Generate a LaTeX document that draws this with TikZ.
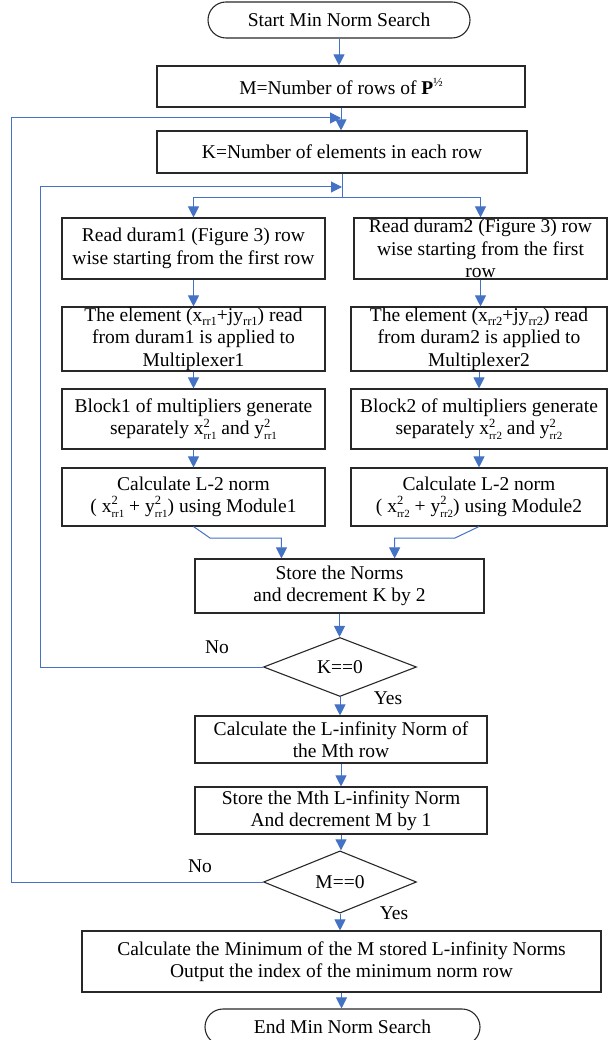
\documentclass[tikz,border=0pt]{standalone}
\usepackage{fontspec}
\setmainfont{Liberation Serif}
\usetikzlibrary{arrows.meta,shapes.geometric,calc}
\definecolor{flow}{RGB}{68,114,196}
\definecolor{edgec}{RGB}{40,40,40}
\newcommand\ssz{\fontsize{12.5}{12.5}\selectfont}
\newcommand\subsz{\fontsize{11}{11}\selectfont}
\newcommand\xss[3]{#1\rlap{\raisebox{0.85ex}{\ssz #2}}\raisebox{-0.55ex}{\subsz #3}}
\newcommand\xsub[2]{#1\raisebox{-0.45ex}{\ssz #2}}
\begin{document}
\begin{tikzpicture}[x=1pt,y=-1pt,
  font=\fontsize{19.5}{22.5}\selectfont,
  box/.style={draw=edgec, line width=1.1pt, align=center, inner sep=0pt, anchor=center},
  dia/.style={diamond, draw=edgec, line width=1.1pt, inner sep=0pt, minimum width=153pt, minimum height=58pt},
  arr/.style={draw=flow, line width=1pt, -{Triangle[width=11pt,length=11pt]}},
  ln/.style={draw=flow, line width=1pt},
  lbl/.style={inner sep=0pt, anchor=center}]
\useasboundingbox (0,0) rectangle (608,1040);
\clip (0,0) rectangle (608,1040);
% main column
\node[box, minimum width=262pt, minimum height=36pt, rounded corners=18pt] (start) at (339,20) {Start Min Norm Search};
\node[box, minimum width=368pt, minimum height=41pt] (mbox) at (341,86.5) {M=Number of rows of \textbf{P}\raisebox{0.9ex}{\ssz ½}};
\node[box, minimum width=370pt, minimum height=42pt] (kbox) at (342,152) {K=Number of elements in each row};
% left column
\node[box, minimum width=263pt, minimum height=61pt] (L1) at (193.5,248.5) {Read duram1 (Figure 3) row\\wise starting from the first row};
\node[box, minimum width=263pt, minimum height=64pt] (L2) at (193.5,339) {The element (\xsub{x}{rr1}+j\xsub{y}{rr1}) read\\from duram1 is applied to\\Multiplexer1};
\node[box, minimum width=263pt, minimum height=60pt] (L3) at (193.5,419) {Block1 of multipliers generate\\separately \xss{x}{2}{rr1} and \xss{y}{2}{rr1}};
\node[box, minimum width=263pt, minimum height=58pt] (L4) at (193.5,497) {Calculate L-2 norm\\( \xss{x}{2}{rr1} + \xss{y}{2}{rr1}) using Module1};
% right column
\node[box, minimum width=253pt, minimum height=61pt] (R1) at (480.5,248.5) {Read duram2 (Figure 3) row\\wise starting from the first\\row};
\node[box, minimum width=256pt, minimum height=64pt] (R2) at (479,339) {The element (\xsub{x}{rr2}+j\xsub{y}{rr2}) read\\from duram2 is applied to\\Multiplexer2};
\node[box, minimum width=256pt, minimum height=60pt] (R3) at (479,419) {Block2 of multipliers generate\\separately \xss{x}{2}{rr2} and \xss{y}{2}{rr2}};
\node[box, minimum width=256pt, minimum height=58pt] (R4) at (479,497) {Calculate L-2 norm\\( \xss{x}{2}{rr2} + \xss{y}{2}{rr2}) using Module2};
% lower part
\node[box, minimum width=289pt, minimum height=54pt] (store) at (339.5,586) {Store the Norms\\and decrement K by 2};
\node[dia] (dK) at (340,667) {K==0};
\node[box, minimum width=292pt, minimum height=47pt] (linf) at (341,739.5) {Calculate the L-infinity Norm of\\the Mth row};
\node[box, minimum width=292pt, minimum height=47pt] (smth) at (341,810.5) {Store the Mth L-infinity Norm\\And decrement M by 1};
\node[dia] (dM) at (340,882) {M==0};
\node[box, minimum width=519pt, minimum height=61pt] (minbox) at (341.5,961.5) {Calculate the Minimum of the M stored L-infinity Norms\\Output the index of the minimum norm row};
\node[box, minimum width=275pt, minimum height=36pt, rounded corners=18pt] (endn) at (342.5,1027) {End Min Norm Search};
% labels
\node[lbl] (noK) at (217,647) {No};
\node[lbl] (yesK) at (388,698) {Yes};
\node[lbl] (noM) at (200,866) {No};
\node[lbl] (yesM) at (394,913) {Yes};
% junction coordinates
\coordinate (jM) at (mbox.south |- 0,118);
\coordinate (jK) at (kbox.south |- 0,187);
\coordinate (split) at (kbox.south |- 0,198);
\coordinate (mL) at ($(store.north west)!0.3!(store.north east)$);
\coordinate (mR) at ($(store.north west)!0.69!(store.north east)$);
% connectors
\draw[arr] (start.south) -- (start.south |- mbox.north);
\draw[arr] (mbox.south) -- (mbox.south |- kbox.north);
\draw[ln] (kbox.south) -- (split);
\draw[arr] (split) -| (L1.north);
\draw[arr] (split) -| (R1.north);
\draw[arr] (L1) -- (L2);
\draw[arr] (L2) -- (L3);
\draw[arr] (L3) -- (L4);
\draw[arr] (R1.south) -- (R1.south |- R2.north);
\draw[arr] (R2) -- (R3);
\draw[arr] (R3) -- (R4);
\draw[arr] (L4.south) -- (210,538) -| (mL);
\draw[arr] (R4.south) -- (455,538) -| (mR);
\draw[arr] (store.south) -- (store.south |- dK.north);
\draw[arr] (dK.south) -- (dK.south |- linf.north);
\draw[arr] (dK.west) -| (40,187) -- (jK);
\draw[arr] (linf) -- (smth);
\draw[arr] (smth.south) -- (smth.south |- dM.north);
\draw[arr] (dM.south) -- (dM.south |- minbox.north);
\draw[arr] (dM.west) -| (11,118) -- (jM);
\draw[arr] (minbox.south) -- (minbox.south |- endn.north);
\end{tikzpicture}
\end{document}
